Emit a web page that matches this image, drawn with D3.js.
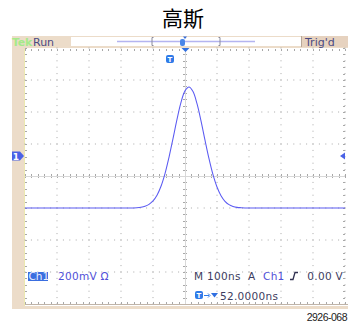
<!DOCTYPE html>
<html>
<head>
<meta charset="utf-8">
<script src="https://cdn.jsdelivr.net/npm/d3@7"></script>
<style>
  body { margin: 0; background: #fff; }
  svg text { font-family: "DejaVu Sans", Verdana, sans-serif; }
</style>
</head>
<body>
<svg id="scope" width="348" height="326"></svg>
<script>
// trace samples: time (ns from screen centre), ch1 (mV from ground)
var timeNs = [-500, -250, -200, -175, -150, -137.5, -125, -112.5, -100, -87.5, -75, -62.5, -50, -37.5, -25, -12.5,
              0, 12.5, 25, 37.5, 50, 62.5, 75, 87.5, 100, 112.5, 125, 137.5, 150, 162.5, 175, 200, 250, 500];
var ch1mV  = [-325, -325, -325, -325, -323, -320, -314, -302, -281, -245, -189, -110, -8, 109, 229, 335,
              407, 431, 403, 327, 220, 99, -17, -117, -194, -248, -283, -304, -315, -321, -323, -325, -325, -325];

var title = "高斯";
var voltsPerDiv = 200, nsPerDiv = 100;
var groundDiv = 0.625;      // ch1 ground marker above centre
var statusLeft = "Run", statusRight = "Trig'd";
var readoutCh = "Ch1", readoutScale = "200mV \u03a9";
var readoutTime = "M 100ns", readoutTrig = ["A", "Ch1", "0.00 V"];
var readoutPos = "52.0000ns";
var figId = "2926-068";

var svg = d3.select("#scope"),
    grid = {left: 25, right: 345, top: 48, bottom: 304};

var x = d3.scaleLinear().domain([-5 * nsPerDiv, 5 * nsPerDiv]).range([grid.left, grid.right]);
var yDiv = d3.scaleLinear().domain([-4, 4]).range([grid.bottom, grid.top]);
var y = function(mv) { return yDiv(mv / voltsPerDiv + groundDiv); };

// title
svg.append("text")
    .attr("x", 183).attr("y", 26)
    .attr("text-anchor", "middle")
    .style("font-family", "'Noto Sans CJK SC', sans-serif")
    .style("font-size", "21px")
    .text(title);

// beige frame
svg.append("rect").attr("x", 12).attr("y", 36).attr("width", 336).attr("height", 273).attr("fill", "#ecdcc9");
svg.append("rect").attr("x", grid.left).attr("y", grid.top).attr("width", grid.right - grid.left + 3)
    .attr("height", grid.bottom - grid.top + 2).attr("fill", "#fff");
svg.append("line").attr("x1", grid.left - 0.5).attr("x2", grid.left - 0.5)
    .attr("y1", grid.top).attr("y2", grid.bottom + 2).attr("stroke", "#ece8b0");

// status bar
svg.append("rect").attr("x", 71).attr("y", 37).attr("width", 230).attr("height", 9).attr("fill", "#fff");
svg.append("rect").attr("x", 301).attr("y", 36).attr("width", 47).attr("height", 11).attr("fill", "#e6d2bf");
svg.append("line").attr("x1", 301.5).attr("x2", 301.5).attr("y1", 36).attr("y2", 47).attr("stroke", "#b8a898");
svg.append("text").attr("x", 12).attr("y", 45.5).attr("fill", "#a6ea8a")
    .style("font-size", "11px").style("font-weight", "bold").style("letter-spacing", "-0.3px").text("Tek");
svg.append("text").attr("x", 33).attr("y", 45.5).attr("fill", "#4a4a82")
    .style("font-size", "11px").text(statusLeft);
svg.append("text").attr("x", 305).attr("y", 45.5).attr("fill", "#4a4a82")
    .style("font-size", "11px").text(statusRight);

// record view
svg.append("line").attr("x1", 117).attr("x2", 255).attr("y1", 41.5).attr("y2", 41.5)
    .attr("stroke", "#b4b4f0").attr("stroke-width", 1.5);
[152, 220].forEach(function(bx, i) {
  var d = i === 0 ? 1.5 : -1.5;
  svg.append("path")
      .attr("d", "M" + (bx + d) + ",37.5H" + bx + "V45.5H" + (bx + d))
      .attr("fill", "none").attr("stroke", "#8a8a9a");
});
svg.append("rect").attr("x", 180).attr("y", 39).attr("width", 5).attr("height", 7).attr("rx", 2)
    .attr("fill", "#4a86e8");
svg.append("path").attr("d", "M183,36.5L187,36.5L185,39Z").attr("fill", "#3a6ed8");

// graticule: dotted division lines
var dots = svg.append("g").attr("fill", "#a8a8a8");
d3.range(-4, 6).forEach(function(i) {
  if (i === 0) return;
  var gx = x(i * nsPerDiv) ;
  d3.range(0, 41).forEach(function(k) {
    dots.append("rect").attr("x", gx - 0.5).attr("y", grid.top + k * 6.4 - 0.5).attr("width", 1).attr("height", 1);
  });
});
d3.range(-3, 4).forEach(function(j) {
  if (j === 0) return;
  var gy = yDiv(j);
  d3.range(0, 51).forEach(function(k) {
    dots.append("rect").attr("x", grid.left + k * 6.4 - 0.5).attr("y", gy - 0.5).attr("width", 1).attr("height", 1);
  });
});

// centre crosshair and border ticks
var ticks = svg.append("g").attr("stroke", "#a8a8a8").attr("stroke-width", 1);
var cx = x(0), cy = yDiv(0);
d3.range(0, 51).forEach(function(k) {
  var tx = Math.round(grid.left + k * 6.4) + 0.5;
  ticks.append("line").attr("x1", tx).attr("x2", tx).attr("y1", cy - 2).attr("y2", cy + 2);
  ticks.append("line").attr("x1", tx).attr("x2", tx).attr("y1", grid.top + 1).attr("y2", grid.top + 3);
  ticks.append("line").attr("x1", tx).attr("x2", tx).attr("y1", grid.bottom - 2).attr("y2", grid.bottom);
});
d3.range(0, 41).forEach(function(k) {
  var ty = Math.round(grid.top + k * 6.4) + 0.5;
  ticks.append("line").attr("x1", cx - 2).attr("x2", cx + 2).attr("y1", ty).attr("y2", ty);
  ticks.append("line").attr("x1", grid.left).attr("x2", grid.left + 2).attr("y1", ty).attr("y2", ty);
  ticks.append("line").attr("x1", grid.right - 2).attr("x2", grid.right).attr("y1", ty).attr("y2", ty);
});
ticks.append("line").attr("x1", cx + 0.5).attr("x2", cx + 0.5).attr("y1", grid.top).attr("y2", grid.bottom)
    .attr("stroke", "#d8d8d8");
ticks.append("line").attr("x1", grid.left).attr("x2", grid.right).attr("y1", cy + 0.5).attr("y2", cy + 0.5)
    .attr("stroke", "#d8d8d8");
svg.append("line").attr("x1", grid.left).attr("x2", grid.right + 3)
    .attr("y1", grid.bottom + 0.5).attr("y2", grid.bottom + 0.5).attr("stroke", "#c0b4a8");

// markers
svg.append("path").attr("d", "M" + (cx - 3.5) + ",48L" + (cx + 4.5) + ",48L" + (cx + 0.5) + ",52Z")
    .attr("fill", "#2f6fe0");
var tIcon = function(tx, ty) {
  var g = svg.append("g").attr("transform", "translate(" + tx + "," + ty + ")");
  g.append("rect").attr("width", 8).attr("height", 8).attr("rx", 2).attr("fill", "#2f7ae8");
  g.append("text").attr("x", 4).attr("y", 7).attr("text-anchor", "middle").attr("fill", "#fff")
      .style("font-size", "7px").style("font-weight", "bold").text("T");
};
tIcon(166, 55);
var gy0 = y(0);
svg.append("path")
    .attr("d", "M12," + (gy0 - 4.5) + "H20L24," + gy0 + "L20," + (gy0 + 4.5) + "H12Z")
    .attr("fill", "#4a62e6");
svg.append("text").attr("x", 16).attr("y", gy0 + 3.5).attr("text-anchor", "middle").attr("fill", "#fff")
    .style("font-size", "9px").style("font-weight", "bold").text("1");
svg.append("path")
    .attr("d", "M340," + gy0 + "L345," + (gy0 - 3.5) + "V" + (gy0 + 3.5) + "Z")
    .attr("fill", "#4a62e6");

// trace
var line = d3.line()
    .x(function(d, i) { return x(timeNs[i]); })
    .y(function(d) { return y(d); })
    .curve(d3.curveCatmullRom);
svg.append("path")
    .datum(ch1mV)
    .attr("d", line)
    .attr("fill", "none")
    .attr("stroke", "#5a5af2")
    .attr("stroke-width", 1.05);

// readouts
var ro = function(tx, txt, col, anchor) {
  return svg.append("text").attr("x", tx).attr("y", 280).attr("fill", col)
      .attr("text-anchor", anchor || "start")
      .style("font-size", "10.5px").style("letter-spacing", "0.3px").text(txt);
};
svg.append("rect").attr("x", 28).attr("y", 272).attr("width", 20).attr("height", 9).attr("fill", "#3a6ee0");
ro(28.5, readoutCh, "#eef").style("letter-spacing", "0px");
ro(58, readoutScale, "#5050d8");
ro(194, readoutTime, "#3c3c60");
ro(248, readoutTrig[0], "#3c3c60");
ro(263, readoutTrig[1], "#5050d8");
svg.append("path").attr("d", "M290,279.5H293L295,272.5H298").attr("fill", "none")
    .attr("stroke", "#303050").attr("stroke-width", 1.3);
ro(343, readoutTrig[2], "#3c3c60", "end");

tIcon(195, 291);
svg.append("path").attr("d", "M204,295.5H209").attr("stroke", "#2f7ae8").attr("stroke-width", 1);
svg.append("path").attr("d", "M208,293.5L210,295.5L208,297.5").attr("fill", "none").attr("stroke", "#2f7ae8");
svg.append("path").attr("d", "M211,293L218,293L214.5,297.5Z").attr("fill", "#2f6fe0");
ro(220, readoutPos, "#3c3c60").attr("y", 299.5);

// figure id
svg.append("text").attr("x", 347).attr("y", 321).attr("text-anchor", "end")
    .style("font-family", "'Liberation Sans Narrow', 'Liberation Sans', sans-serif")
    .style("font-size", "10.5px").style("letter-spacing", "-0.5px").attr("fill", "#222").text(figId);
</script>
</body>
</html>
